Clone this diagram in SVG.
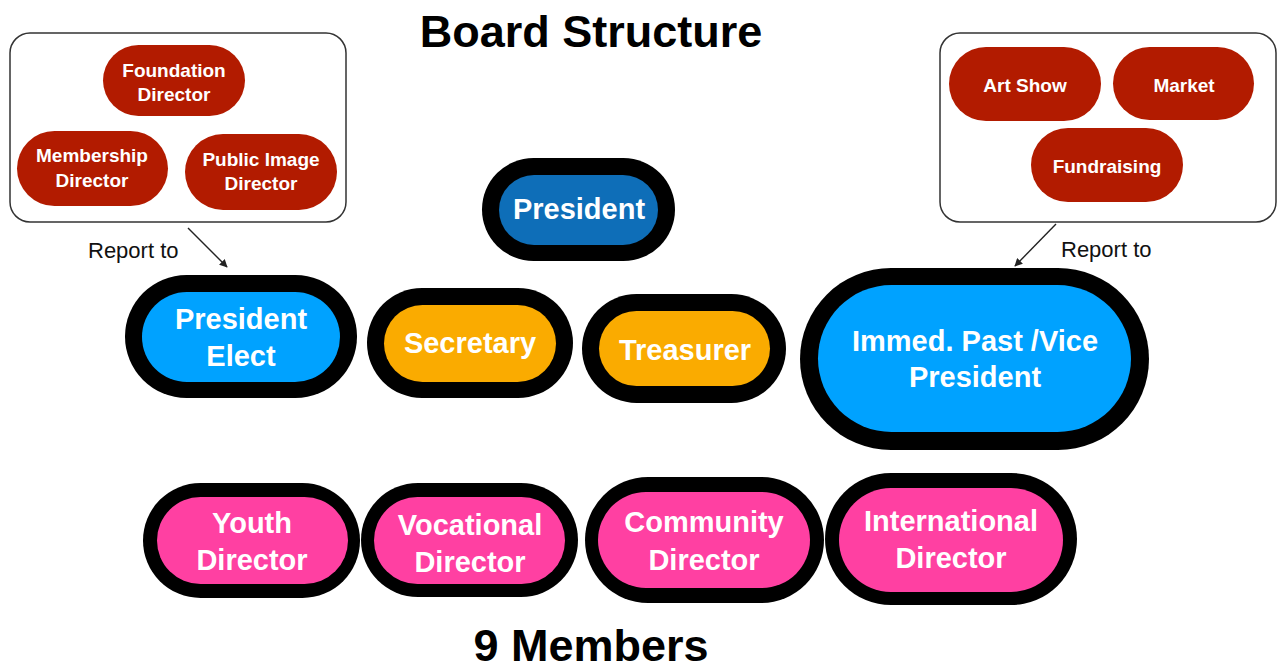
<svg xmlns="http://www.w3.org/2000/svg" width="1278" height="672" viewBox="0 0 1278 672">
<defs>
<style>
.t{font-family:"Liberation Sans",Arial,Helvetica,sans-serif;text-anchor:middle}
.title{font-size:45px;font-weight:bold;fill:#000}
.big{font-size:29px;font-weight:bold;fill:#fff}
.small{font-size:19px;font-weight:bold;fill:#fff}
.lbl{font-size:22px;fill:#111;text-anchor:start}
.box{fill:#fff;stroke:#333;stroke-width:1.5}
.red{fill:#b21b00}
.blk{fill:#000}
.pblue{fill:#0e6eb8}
.lblue{fill:#00a2ff}
.orng{fill:#faab00}
.pink{fill:#ff40a2}
.conn{stroke:#222;stroke-width:1.4;fill:none;marker-end:url(#ah)}
</style>
<marker id="ah" viewBox="0 0 10 10" refX="9" refY="5" markerWidth="8" markerHeight="8" markerUnits="userSpaceOnUse" orient="auto">
<path d="M0,0 L10,5 L0,10 z" fill="#222"/>
</marker>
</defs>
<rect width="1278" height="672" fill="#fff"/>
<text class="t title" x="591" y="47">Board Structure</text>
<text class="t title" x="591" y="661" font-size="46">9 Members</text>

<g id="left-committee">
<rect class="box" x="10" y="33" width="336" height="189" rx="20"/>
<g id="foundation-director">
<rect class="red" x="103" y="45" width="142" height="71" rx="35.5"/>
<text class="t small" x="174" y="77">Foundation</text>
<text class="t small" x="174" y="101">Director</text>
</g>
<g id="membership-director">
<rect class="red" x="17" y="131" width="151" height="75" rx="37.5"/>
<text class="t small" x="92" y="162">Membership</text>
<text class="t small" x="92" y="187">Director</text>
</g>
<g id="public-image-director">
<rect class="red" x="185" y="134" width="152" height="76" rx="38"/>
<text class="t small" x="261" y="166">Public Image</text>
<text class="t small" x="261" y="190">Director</text>
</g>
</g>

<g id="right-committee">
<rect class="box" x="940" y="33" width="336" height="189" rx="20"/>
<g id="art-show">
<rect class="red" x="949" y="47" width="152" height="74" rx="37"/>
<text class="t small" x="1025" y="92">Art Show</text>
</g>
<g id="market">
<rect class="red" x="1113" y="47" width="141" height="73" rx="36.5"/>
<text class="t small" x="1184" y="92">Market</text>
</g>
<g id="fundraising">
<rect class="red" x="1031" y="128" width="152" height="74" rx="37"/>
<text class="t small" x="1107" y="173">Fundraising</text>
</g>
</g>

<g id="connectors">
<line class="conn" x1="188" y1="228" x2="227" y2="267"/>
<line class="conn" x1="1056" y1="224" x2="1015" y2="266"/>
</g>
<text class="t lbl" x="88" y="258">Report to</text>
<text class="t lbl" x="1061" y="257">Report to</text>

<g id="president">
<rect class="blk" x="482" y="158" width="193" height="103" rx="51.5"/>
<rect class="pblue" x="499" y="175" width="159" height="70" rx="35"/>
<text class="t big" x="579" y="219">President</text>
</g>

<g id="president-elect">
<rect class="blk" x="125" y="275" width="232" height="123" rx="61.5"/>
<rect class="lblue" x="142" y="292" width="198" height="90" rx="45"/>
<text class="t big" x="241" y="329">President</text>
<text class="t big" x="241" y="366">Elect</text>
</g>

<g id="secretary">
<rect class="blk" x="367" y="288" width="206" height="110" rx="55"/>
<rect class="orng" x="384" y="305" width="172" height="77" rx="38.5"/>
<text class="t big" x="470" y="353">Secretary</text>
</g>

<g id="treasurer">
<rect class="blk" x="582" y="294" width="204" height="109" rx="54.5"/>
<rect class="orng" x="599" y="311" width="171" height="75" rx="37.5"/>
<text class="t big" x="685" y="360">Treasurer</text>
</g>

<g id="immediate-past-vice-president">
<rect class="blk" x="800" y="268" width="349" height="182" rx="91"/>
<rect class="lblue" x="818" y="285" width="313" height="147" rx="73.5"/>
<text class="t big" x="975" y="351">Immed. Past /Vice</text>
<text class="t big" x="975" y="387">President</text>
</g>

<g id="youth-director">
<rect class="blk" x="143" y="483" width="217" height="115" rx="57.5"/>
<rect class="pink" x="157" y="497" width="191" height="87" rx="43.5"/>
<text class="t big" x="252" y="533">Youth</text>
<text class="t big" x="252" y="570">Director</text>
</g>

<g id="vocational-director">
<rect class="blk" x="361" y="483" width="217" height="114" rx="57"/>
<rect class="pink" x="374" y="497" width="191" height="87" rx="43.5"/>
<text class="t big" x="470" y="535">Vocational</text>
<text class="t big" x="470" y="572">Director</text>
</g>

<g id="community-director">
<rect class="blk" x="585" y="477" width="239" height="126" rx="63"/>
<rect class="pink" x="598" y="492" width="212" height="96" rx="48"/>
<text class="t big" x="704" y="532">Community</text>
<text class="t big" x="704" y="570">Director</text>
</g>

<g id="international-director">
<rect class="blk" x="825" y="473" width="252" height="132" rx="66"/>
<rect class="pink" x="839" y="488" width="224" height="104" rx="52"/>
<text class="t big" x="951" y="531">International</text>
<text class="t big" x="951" y="568">Director</text>
</g>
</svg>
